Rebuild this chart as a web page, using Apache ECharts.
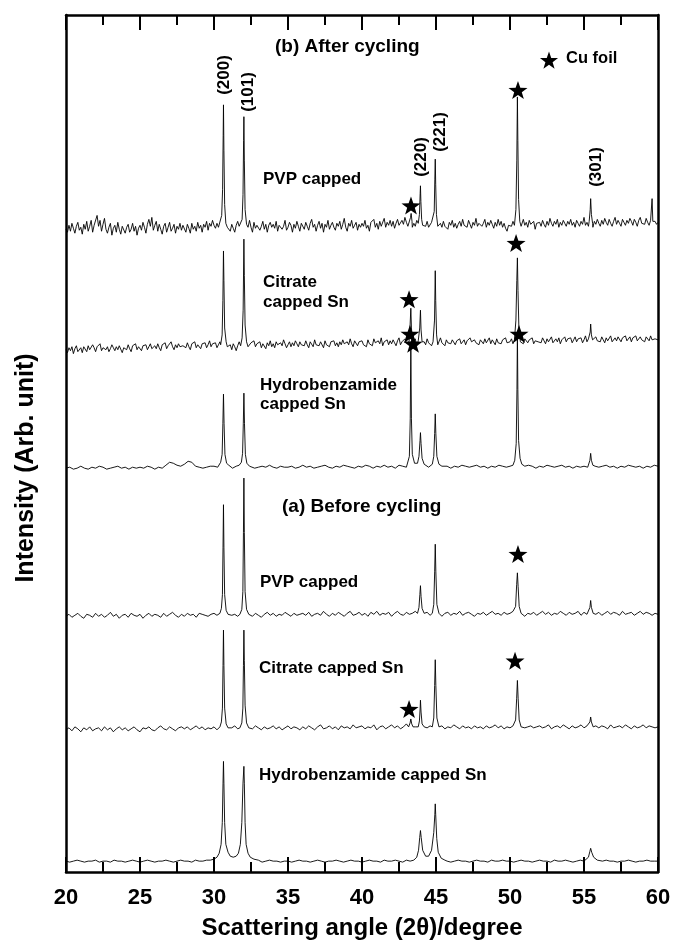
<!DOCTYPE html>
<html>
<head>
<meta charset="utf-8">
<script src="https://cdn.jsdelivr.net/npm/echarts@6/dist/echarts.min.js"></script>
<style>html,body{margin:0;padding:0;background:#fff}#c{width:675px;height:945px}</style>
</head>
<body>
<div id="c"></div>
<script>
// ---------------- DATA ----------------
const xTicks = [20, 25, 30, 35, 40, 45, 50, 55, 60];
const xAxisTitle = 'Scattering angle (2\u03b8)/degree';
const yAxisTitle = 'Intensity (Arb. unit)';
const traceNames = ['Hydrobenzamide capped Sn (a)', 'Citrate capped Sn (a)', 'PVP capped (a)',
                    'Hydrobenzamide capped Sn (b)', 'Citrate capped Sn (b)', 'PVP capped (b)'];
const traceOffsets = [10, 144, 259, 409, 529, 651];
const gridSteps = [0.25, 0.2, 0.2, 0.25, 0.1, 0.1];

// baseline (noise) readings, uniform in 2theta from 20 to 60
const hydroBeforeBase = [
1,0,1,2,1,0,1,1,2,0,1,1,0,2,1,1,0,1,2,1,
0,1,2,1,0,1,1,2,1,0,1,2,1,1,0,2,1,1,2,2,
2,2,3,3,4,5,4,3,2,1,1,2,1,0,1,2,1,1,0,1,
1,0,1,2,1,1,0,1,2,1,0,1,1,2,1,0,1,2,1,1,
0,1,2,1,1,0,2,1,1,2,1,0,2,1,2,1,1,2,1,2,
1,1,2,1,0,1,2,1,1,0,1,2,1,1,0,2,1,1,2,1,
1,0,1,2,1,1,0,1,2,1,1,0,2,1,1,2,1,0,1,2,
1,2,1,1,0,1,2,1,1,0,1,1,2,1,0,1,1,2,1,1,
1];
const citrateBeforeBase = [
0,2,-1,3,1,-2,2,0,3,-1,1,2,-1,3,0,2,-2,1,3,0,
2,-1,1,3,0,-2,2,1,3,0,-1,2,4,1,0,3,1,-1,2,3,
1,3,0,2,4,1,3,0,2,1,3,0,2,1,3,0,2,4,1,3,
2,0,3,1,4,2,0,3,1,2,4,1,3,0,2,4,1,3,2,0,
3,1,4,2,0,3,5,1,2,4,1,3,0,4,2,3,1,5,2,3,
4,1,3,2,5,0,3,4,1,3,5,2,4,1,3,6,2,4,3,2,
3,5,2,4,1,3,2,4,1,3,2,5,3,1,4,2,3,1,4,2,
3,1,4,2,3,5,2,4,1,3,2,4,3,1,5,2,3,4,2,3,
4,2,3,5,1,3,4,2,5,3,1,4,2,3,5,2,4,1,3,4,
2,4,3,1,5,2,3,4,2,5,3,1,4,2,3,5,2,4,3,2,
3];
const pvpBeforeBase = [
0,2,-1,1,3,0,-2,2,1,-1,3,0,2,-1,1,4,0,2,-2,1,
2,-1,3,1,0,2,-2,1,3,0,2,1,-1,3,0,2,4,1,-1,2,
0,3,1,2,-1,3,2,1,0,2,3,1,-1,2,0,3,1,2,0,3,
1,4,2,0,3,1,-1,2,4,1,3,0,2,1,4,2,0,3,1,2,
3,1,4,0,2,3,1,5,2,0,3,1,4,2,0,3,5,1,2,4,
1,3,0,4,2,5,1,3,2,4,0,3,5,2,1,4,2,3,5,1,
3,2,4,1,3,5,2,0,3,4,1,3,2,5,1,3,4,2,0,3,
2,4,1,3,5,2,3,1,4,2,3,5,1,2,4,0,3,2,4,1,
3,5,2,4,1,3,2,5,3,1,4,2,3,5,1,4,2,3,6,2,
4,1,3,5,2,4,3,1,5,2,3,4,1,3,5,2,4,3,1,3,
2];
const hydroAfterBase = [
0,1,-1,0,2,0,-1,1,0,2,1,-1,0,1,2,0,1,-1,1,0,
1,0,2,1,-1,1,0,3,6,5,3,2,4,7,6,2,1,0,1,2,
2,1,3,2,1,0,2,1,3,1,2,0,1,2,1,3,1,0,2,1,
1,2,0,1,3,1,2,0,1,2,3,1,0,2,1,3,2,1,0,2,
1,3,2,0,2,1,3,1,2,0,3,2,1,3,2,1,2,3,1,2,
2,1,3,2,0,2,1,3,2,1,2,3,1,2,0,2,1,3,2,1,
2,3,1,2,1,3,2,0,2,1,3,2,1,2,3,1,2,0,2,1,
2,1,3,2,1,2,3,1,2,0,2,1,3,2,1,2,0,2,1,3,
2];
const citrateAfterBase = [
0,-3,2,-1,3,-4,1,4,-2,0,2,-3,3,1,-2,4,0,-1,5,2,
-2,3,1,6,-1,2,4,0,3,-2,1,5,2,-1,3,0,4,2,-3,2,
3,0,5,1,-2,4,2,6,0,3,1,-1,4,2,5,0,3,6,1,2,
4,1,6,2,-1,5,3,7,1,4,2,8,3,0,5,2,6,3,1,4,
5,2,7,3,0,6,4,8,2,5,3,1,6,4,7,2,5,9,3,6,
4,7,2,5,8,3,6,1,4,7,2,5,0,6,3,-1,4,8,2,5,
6,3,8,4,1,7,5,9,3,6,4,8,2,6,5,1,7,4,9,3,
6,2,8,5,3,7,4,10,6,2,5,8,3,7,4,9,6,3,8,5,
7,4,9,5,2,8,6,3,10,5,7,4,8,6,2,9,5,7,3,8,
6,9,4,7,3,8,5,10,6,4,8,5,11,6,3,9,7,4,8,6,
9,5,7,3,10,6,8,4,11,7,5,9,6,12,4,8,7,10,5,9,
6,10,7,4,9,12,5,8,6,11,7,9,5,10,6,8,11,4,9,7,
10,6,8,5,11,7,9,4,8,10,6,9,5,12,7,8,4,10,7,9,
6,10,8,5,9,7,11,6,8,10,5,9,7,12,8,6,10,7,9,5,
10,8,6,11,7,9,12,6,10,8,5,11,7,9,6,10,8,12,7,9,
8,11,6,10,9,7,12,8,10,6,11,9,7,10,8,12,6,9,11,8,
10,7,12,9,6,11,8,10,13,7,9,11,8,12,6,10,9,13,8,11,
9,12,7,10,13,8,11,9,12,7,10,14,8,11,9,12,10,8,13,9,
11,8,13,10,7,12,9,11,14,8,10,12,9,13,11,8,12,10,14,9,
11,13,8,12,10,14,9,11,13,10,12,8,13,11,9,14,10,12,11,13,
10];
const pvpAfterBase = [
0,-3,4,-2,6,1,-4,3,7,-1,2,-5,5,0,8,-2,3,9,-3,4,
6,14,3,9,-2,5,11,0,-4,2,6,-6,1,4,-3,7,0,-5,3,1,
-4,2,5,-3,0,6,-2,3,-6,1,4,-1,7,2,-4,5,10,3,12,-1,
4,8,-2,5,0,-5,3,6,-3,2,7,-2,1,5,-4,3,0,6,-1,4,
2,-3,5,1,-4,6,0,3,-2,7,1,4,-3,5,2,8,-1,6,3,9,
4,1,6,2,5,0,-3,-5,3,6,2,-2,5,1,-3,4,8,3,0,2,
3,6,-2,5,9,2,-3,7,1,4,6,-1,3,8,0,5,-3,4,7,2,
5,1,8,-2,4,6,0,3,9,-1,2,7,4,-3,5,1,8,3,-2,6,
4,0,7,3,-1,6,10,2,5,-2,4,8,1,6,-3,5,2,9,0,4,
7,2,-1,6,3,8,0,5,11,2,-2,6,3,9,1,4,7,-1,5,2,
6,3,9,1,4,-2,7,5,10,2,6,0,8,3,5,11,2,7,4,9,
3,8,1,6,10,4,2,9,5,12,7,3,8,5,2,6,3,9,4,2,
5,1,6,3,8,2,4,7,0,5,3,-1,4,6,2,8,3,5,0,7,
4,9,2,6,1,5,8,3,10,4,6,2,9,5,1,7,4,11,3,6,
8,3,6,10,2,7,4,9,5,1,7,3,10,4,8,2,6,1,-2,4,
6,3,8,2,5,9,1,6,3,10,4,7,2,9,5,3,8,0,6,4,
7,3,9,5,2,8,4,11,6,3,8,5,10,2,7,4,9,6,3,8,
5,10,4,7,2,9,6,3,8,5,12,4,7,3,9,6,2,8,5,10,
6,3,9,5,11,7,4,10,6,3,8,12,5,9,6,3,10,7,4,9,
6,11,8,4,10,7,3,9,12,6,8,5,11,7,4,9,6,10,8,5,
7];

// peak readings [2theta, intensity above trace offset]
const hydroBeforePeaks = [
 [[30.0,3],[30.2,5],[30.35,9],[30.48,18],[30.56,40],[30.61,80],[30.64,102],[30.67,80],[30.72,40],[30.8,18],[30.95,10],[31.1,6],[31.3,5],[31.5,6],[31.65,9],[31.78,18],[31.88,40],[31.96,80],[32.02,97],[32.05,80],[32.1,40],[32.17,18],[32.3,9],[32.45,5],[32.7,3],[33.0,2]],
 [[43.5,2],[43.7,5],[43.82,12],[43.9,25],[43.95,32],[44.0,25],[44.1,12],[44.3,6],[44.5,6],[44.7,12],[44.85,30],[44.92,48],[44.95,59],[44.98,48],[45.05,24],[45.15,10],[45.35,4],[45.6,2]],
 [[55.1,2],[55.3,5],[55.4,11],[55.45,14],[55.52,10],[55.65,5],[55.9,2]]
];
const citrateBeforePeaks = [
 [[30.4,3],[30.5,8],[30.57,22],[30.61,65],[30.64,101],[30.67,65],[30.72,22],[30.82,6],[30.95,2]],
 [[31.75,2],[31.88,7],[31.95,22],[31.99,65],[32.02,101],[32.05,70],[32.1,25],[32.2,7],[32.35,2]],
 [[43.15,3],[43.25,7],[43.3,11],[43.36,6],[43.45,3]],
 [[43.8,3],[43.88,9],[43.93,22],[43.95,30],[43.99,18],[44.06,6],[44.2,3]],
 [[44.75,3],[44.85,12],[44.91,45],[44.95,71],[44.99,45],[45.06,12],[45.2,3]],
 [[50.25,4],[50.38,10],[50.45,32],[50.5,50],[50.55,32],[50.62,10],[50.75,3]],
 [[55.3,3],[55.4,8],[55.45,13],[55.5,8],[55.62,3]]
];
const pvpBeforePeaks = [
 [[30.4,3],[30.5,8],[30.57,22],[30.61,70],[30.64,113],[30.67,70],[30.72,22],[30.82,6],[30.95,2]],
 [[31.75,2],[31.88,7],[31.95,25],[31.99,85],[32.02,140],[32.05,85],[32.1,25],[32.2,7],[32.35,2]],
 [[43.75,3],[43.85,9],[43.91,22],[43.95,31],[43.99,20],[44.06,8],[44.2,3]],
 [[44.75,3],[44.85,12],[44.91,45],[44.95,73],[44.99,45],[45.06,12],[45.2,3]],
 [[50.25,3],[50.38,10],[50.45,32],[50.5,44],[50.55,30],[50.62,10],[50.75,3]],
 [[55.3,3],[55.4,9],[55.45,16],[55.5,9],[55.62,3]]
];
const hydroAfterPeaks = [
 [[30.3,2],[30.45,6],[30.55,14],[30.6,45],[30.64,75],[30.68,45],[30.74,14],[30.85,5],[31.0,3]],
 [[31.7,3],[31.85,6],[31.93,15],[31.98,45],[32.02,76],[32.06,45],[32.12,14],[32.22,5],[32.4,2]],
 [[43.1,3],[43.2,12],[43.26,50],[43.3,128],[43.34,50],[43.4,14],[43.55,5]],
 [[43.75,5],[43.85,12],[43.92,28],[43.95,36],[43.99,25],[44.06,10],[44.2,4]],
 [[44.75,4],[44.85,12],[44.91,35],[44.95,55],[44.99,35],[45.06,12],[45.2,4],[45.4,2]],
 [[50.2,3],[50.32,8],[50.42,25],[50.47,80],[50.5,138],[50.53,80],[50.58,28],[50.68,10],[50.8,4],[51.0,2]],
 [[55.3,3],[55.4,8],[55.45,15],[55.5,8],[55.6,3]]
];
const citrateAfterPeaks = [
 [[30.45,5],[30.55,15],[30.6,50],[30.64,100],[30.67,70],[30.72,22],[30.82,8],[30.9,3]],
 [[31.8,4],[31.9,12],[31.97,40],[32.02,112],[32.05,75],[32.1,25],[32.2,8],[32.3,3]],
 [[43.18,8],[43.25,25],[43.3,42],[43.34,22],[43.42,8]],
 [[43.82,9],[43.9,22],[43.95,40],[43.99,20],[44.06,8]],
 [[44.82,8],[44.9,30],[44.95,80],[44.98,50],[45.04,15],[45.12,5]],
 [[50.32,10],[50.4,30],[50.46,70],[50.5,93],[50.54,60],[50.6,22],[50.7,8]],
 [[55.35,11],[55.42,18],[55.45,26],[55.5,15],[55.58,10]]
];
const pvpAfterPeaks = [
 [[30.4,4],[30.52,14],[30.58,40],[30.62,95],[30.64,126],[30.67,80],[30.72,25],[30.8,6],[30.9,2]],
 [[31.8,3],[31.9,10],[31.96,35],[32.0,90],[32.02,114],[32.05,70],[32.1,20],[32.2,5],[32.3,2]],
 [[43.2,5],[43.28,12],[43.32,16],[43.38,8]],
 [[43.8,6],[43.88,15],[43.93,36],[43.95,44],[43.98,28],[44.03,10],[44.1,4]],
 [[44.8,5],[44.88,18],[44.92,50],[44.95,71],[44.98,45],[45.03,15],[45.12,3]],
 [[50.3,4],[50.4,20],[50.46,70],[50.5,134],[50.53,90],[50.58,30],[50.66,8],[50.75,3]],
 [[55.35,8],[55.42,20],[55.45,31],[55.5,15],[55.58,6]],
 [[59.55,9],[59.6,31],[59.65,8]]
];

// Cu foil star markers [2theta, intensity]
const cuStars = [[43.31,675],[50.54,792],[50.41,637],[43.18,580],[43.24,545],[43.45,535],[50.61,545],[50.54,322],[50.34,214],[43.18,165]];

// ---------------- BUILD ----------------
const bases = [hydroBeforeBase, citrateBeforeBase, pvpBeforeBase, hydroAfterBase, citrateAfterBase, pvpAfterBase];
const peaks = [hydroBeforePeaks, citrateBeforePeaks, pvpBeforePeaks, hydroAfterPeaks, citrateAfterPeaks, pvpAfterPeaks];

function buildTrace(base, step, pk, offset) {
  const wins = pk.map(p => [p[0][0], p[p.length - 1][0]]);
  const pts = [];
  base.forEach((v, i) => {
    const x = +(xTicks[0] + i * step).toFixed(3);
    if (!wins.some(w => x >= w[0] - 1e-6 && x <= w[1] + 1e-6)) pts.push([x, v]);
  });
  pk.forEach(p => p.forEach(q => pts.push([q[0], q[1]])));
  pts.sort((a, b) => a[0] - b[0]);
  return pts.map(p => [p[0], p[1] + offset]);
}

const FONT = '"Liberation Sans", Arial, sans-serif';
const starPath = 'path://M0,-10L2.35,-3.24L9.51,-3.09L3.8,1.24L5.88,8.09L0,4L-5.88,8.09L-3.8,1.24L-9.51,-3.09L-2.35,-3.24Z';
const legendStarPoints = [[0,-9.5],[2.24,-3.07],[9.04,-2.94],[3.61,1.17],[5.58,7.69],[0,3.8],[-5.58,7.69],[-3.61,1.17],[-9.04,-2.94],[-2.24,-3.07]];

const series = traceNames.map((n, k) => ({
  name: n, type: 'line', xAxisIndex: 0, yAxisIndex: 0,
  data: buildTrace(bases[k], gridSteps[k], peaks[k], traceOffsets[k]),
  showSymbol: false, symbol: 'none', smooth: false,
  lineStyle: { color: '#000', width: 0.9 }, z: 2, silent: true
}));
series.push({
  name: 'Cu foil', type: 'scatter', data: cuStars, symbol: starPath, symbolSize: [19, 18],
  itemStyle: { color: '#000', opacity: 1 }, z: 5, silent: true
});

function txt(t, x, y, size) {
  return {
    type: 'text', x: x, y: y, z: 10,
    style: { text: t, fill: '#000', font: 'bold ' + size + 'px ' + FONT, textAlign: 'left', textVerticalAlign: 'middle' }
  };
}
function rot(t, x, y, size) {
  return { type: 'text', x: x, y: y, rotation: Math.PI / 2, z: 10,
    style: { text: t, fill: '#000', font: 'bold ' + size + 'px ' + FONT, textAlign: 'center', textVerticalAlign: 'middle' } };
}

const graphics = [
  txt('(b) After cycling', 275, 47, 19),
  { type: 'polygon', x: 549, y: 61, z: 10, shape: { points: legendStarPoints }, style: { fill: '#000' } },
  txt('Cu foil', 566, 58, 16.5),
  rot('(200)', 224, 75, 17),
  rot('(101)', 248, 92, 17),
  rot('(220)', 421, 157, 17),
  rot('(221)', 440, 132, 17),
  rot('(301)', 596, 167, 17),
  txt('PVP capped', 263, 179, 17),
  txt('Citrate', 263, 282, 17),
  txt('capped Sn', 263, 302, 17),
  txt('Hydrobenzamide', 260, 385, 17),
  txt('capped Sn', 260, 404, 17),
  txt('(a) Before cycling', 282, 507, 19),
  txt('PVP capped', 260, 582, 17),
  txt('Citrate capped Sn', 259, 668, 17),
  txt('Hydrobenzamide capped Sn', 259, 775, 17),
  rot(yAxisTitle, 26, 468, 25)
];

const axisCommon = {
  type: 'value', min: xTicks[0], max: xTicks[xTicks.length - 1], interval: xTicks[1] - xTicks[0],
  axisLine: { show: true, onZero: false, lineStyle: { color: '#000', width: 2.5 } },
  axisTick: { show: true, inside: true, length: 15, lineStyle: { color: '#000', width: 2 } },
  minorTick: { show: true, splitNumber: 2, length: 10, lineStyle: { color: '#000', width: 2 } },
  splitLine: { show: false }, minorSplitLine: { show: false }
};

const option = {
  animation: false,
  backgroundColor: '#fff',
  grid: { left: 66, right: 17, top: 15, bottom: 62, containLabel: false },
  xAxis: [
    Object.assign({}, axisCommon, {
      position: 'bottom',
      axisLabel: { show: true, color: '#000', fontSize: 22, fontWeight: 'bold', fontFamily: FONT, margin: 15,
        formatter: v => String(v) },
      name: xAxisTitle, nameLocation: 'middle', nameGap: 44,
      nameTextStyle: { color: '#000', fontSize: 24, fontWeight: 'bold', fontFamily: FONT }
    }),
    Object.assign({}, axisCommon, { position: 'top', axisLabel: { show: false } })
  ],
  yAxis: [
    { type: 'value', min: 0, max: 868, position: 'left',
      axisLine: { show: true, lineStyle: { color: '#000', width: 2.5 } },
      axisTick: { show: false }, axisLabel: { show: false }, splitLine: { show: false } },
    { type: 'value', min: 0, max: 868, position: 'right',
      axisLine: { show: true, lineStyle: { color: '#000', width: 2.5 } },
      axisTick: { show: false }, axisLabel: { show: false }, splitLine: { show: false } }
  ],
  series: series,
  graphic: graphics
};

const chart = echarts.init(document.getElementById('c'), null, { renderer: 'canvas' });
chart.setOption(option);
</script>
</body>
</html>
